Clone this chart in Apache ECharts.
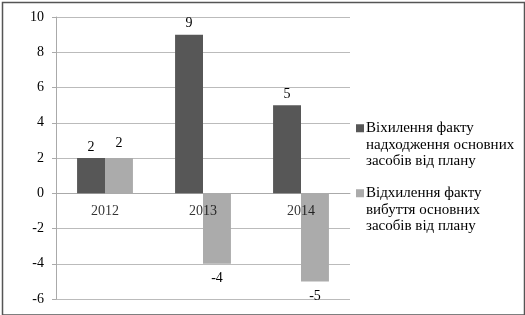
<!DOCTYPE html>
<html><head><meta charset="utf-8">
<script src="https://cdn.jsdelivr.net/npm/echarts@6/dist/echarts.min.js"></script>
<style>html,body{margin:0;padding:0;background:#fff}#c{width:525px;height:315px}</style>
</head><body><div id="c"></div>
<script>
const categories = ['2012', '2013', '2014'];
const seriesNames = ['Віхилення факту\nнадходження основних\nзасобів від плану', 'Відхилення факту\nвибуття основних\nзасобів від плану'];
const receiptDeviation = [2, 9, 5];
const disposalDeviation = [2, -4, -5];
const yTicks = { min: -6, max: 10, interval: 2 };

const FAMILY = "'Liberation Serif', 'Times New Roman', serif";
const font = { fontFamily: FAMILY, fontSize: 14, color: '#000' };
const LH = 16.5;
const chart = echarts.init(document.getElementById('c'), null, { renderer: 'canvas' });
chart.setOption({
  animation: false,
  backgroundColor: '#fff',
  graphic: [{
    type: 'rect', left: 0, top: 0, z: 100, silent: true,
    shape: { x: 0.75, y: 0.5, width: 522, height: 312.5 },
    style: { fill: 'none', stroke: '#555', lineWidth: 1.5 }
  }],
  grid: { left: 56, right: 175, top: 17, bottom: 16, containLabel: false, outerBoundsMode: 'none' },
  legend: {
    orient: 'vertical', left: 351, top: 115, itemGap: 15.5,
    itemWidth: 8, itemHeight: 2 * LH + 8,
    icon: 'path://M0,0H8V8H0Z M0,41L0.001,41Z',
    textStyle: Object.assign({}, font, { fontSize: 15, lineHeight: LH, padding: [0, 0, 0, -3] }),
    data: seriesNames
  },
  xAxis: {
    type: 'category', data: categories,
    axisLine: { onZero: true, lineStyle: { color: '#aaa' } },
    axisTick: { show: false },
    axisLabel: { show: false }
  },
  yAxis: {
    type: 'value', min: yTicks.min, max: yTicks.max, interval: yTicks.interval,
    axisLine: { show: true, lineStyle: { color: '#aaa' } },
    axisTick: { show: true, length: 4, lineStyle: { color: '#aaa' } },
    splitLine: { lineStyle: { color: '#bbb' } },
    axisLabel: Object.assign({}, font, { margin: 12 })
  },
  series: [
    { name: seriesNames[0], type: 'bar', data: receiptDeviation, barGap: '0%', barCategoryGap: '43%',
      itemStyle: { color: '#575757' },
      label: Object.assign({ show: true, position: 'outside', distance: 4 }, font) },
    { name: seriesNames[1], type: 'bar', data: disposalDeviation,
      itemStyle: { color: '#ababab' },
      label: Object.assign({ show: true, position: 'outside', distance: 8 }, font) },
    { name: 'categoryLabels', type: 'scatter', symbolSize: 0, silent: true, z: 5,
      data: categories.map(c => [c, 0]),
      label: Object.assign({ show: true, position: 'bottom', distance: 11,
        formatter: p => p.name || p.value[0] }, font) }
  ]
});
</script></body></html>
